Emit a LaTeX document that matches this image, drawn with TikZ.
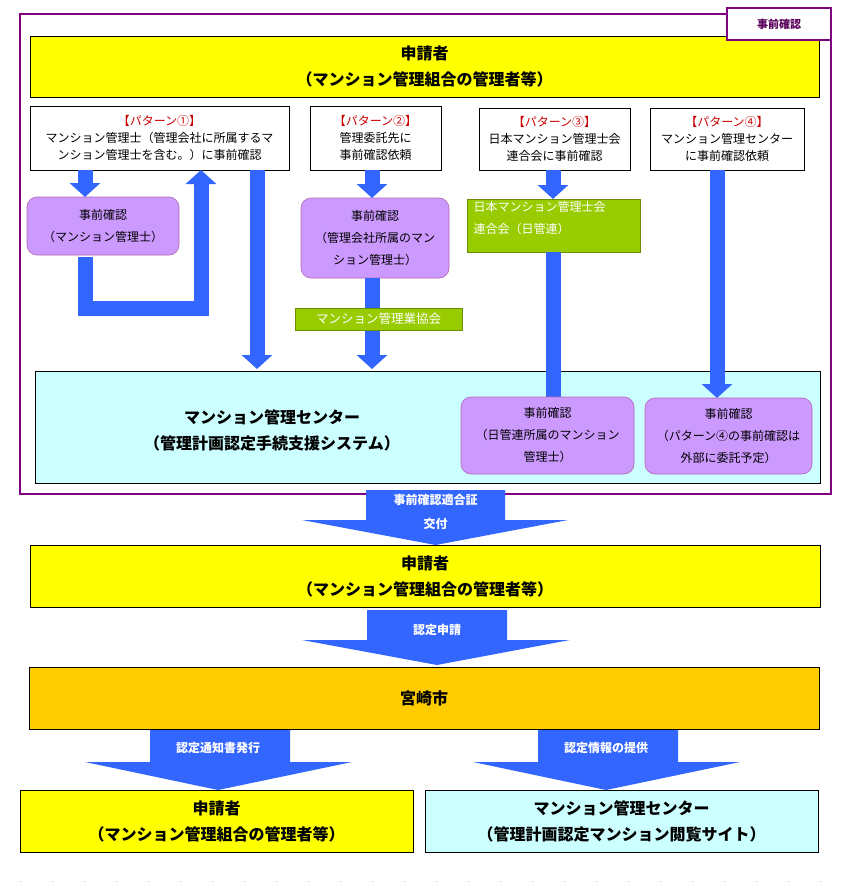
\documentclass[tikz,border=0pt]{standalone}
\usepackage{fontspec}
\setmainfont{Noto Sans CJK JP}
\usetikzlibrary{arrows.meta}
\definecolor{blu}{HTML}{3366FF}
\definecolor{yel}{HTML}{FFFF00}
\definecolor{cya}{HTML}{CCFFFF}
\definecolor{pur}{HTML}{CC99FF}
\definecolor{grn}{HTML}{99CC00}
\definecolor{org}{HTML}{FFCC00}
\definecolor{frm}{HTML}{800080}
\definecolor{red}{HTML}{CC0000}
\begin{document}
\begin{tikzpicture}[x=1pt,y=-1pt,
  box/.style={draw=black,line width=0.6pt,inner sep=0pt},
  big/.style={font=\bfseries\fontsize{16}{26}\selectfont,align=center},
  sm/.style={font=\fontsize{12}{22}\selectfont,align=center},
  pbox/.style={box,fill=white},
  rbox/.style={draw=frm!60,fill=pur,rounded corners=10pt,line width=0.6pt},
  gbox/.style={fill=grn,draw=grn!70!black,line width=0.4pt},
  flow/.style={draw=blu,line width=15pt,-{Triangle[width=30pt,length=14pt]}},
  ftxt/.style={text=white,font=\bfseries\fontsize{12}{24}\selectfont,align=center}]
\useasboundingbox (0,0) rectangle (849,883);
\fill[white] (0,0) rectangle (849,883);
% frame
\draw[frm,line width=2pt] (20,14) rectangle (831,494);
% top applicant
\draw[box,fill=yel] (30,36) rectangle (819,97);
\node[big] (app1) at (424.5,66) {申請者\\（マンション管理組合の管理者等）};
\node[draw=frm,line width=2pt,fill=white,minimum width=104pt,minimum height=32pt,text=frm!70!black,font=\bfseries\fontsize{11}{13}\selectfont] (lbl) at (779,24) {事前確認};
% pattern boxes
\draw[pbox] (30,106) rectangle (289,170);
\node[sm] (p1) at (159.5,138) {\textcolor{red}{【パターン①】}\\[-5pt]マンション管理士（管理会社に所属するマ\\[-5pt]ンション管理士を含む。）に事前確認};
\draw[pbox] (310,106) rectangle (441,170);
\node[sm] (p2) at (375.5,138) {\textcolor{red}{【パターン②】}\\[-5pt]管理委託先に\\[-5pt]事前確認依頼};
\draw[pbox] (479,108) rectangle (630,170);
\node[sm] (p3) at (554.5,139) {\textcolor{red}{【パターン③】}\\[-5pt]日本マンション管理士会\\[-5pt]連合会に事前確認};
\draw[pbox] (650,108) rectangle (804,170);
\node[sm] (p4) at (727,139) {\textcolor{red}{【パターン④】}\\[-5pt]マンション管理センター\\[-5pt]に事前確認依頼};
% center box
\draw[box,fill=cya] (35,371) rectangle (820,483);
\node[big] (ctr) at (272,430) {マンション管理センター\\（管理計画認定手続支援システム）};
% purple boxes
\draw[rbox] (27,197) rectangle (179,255);
\node[sm] (a) at (103,226) {事前確認\\（マンション管理士）};
\draw[rbox] (301,198) rectangle (449,278);
\node[sm] (b) at (375,238) {事前確認\\（管理会社所属のマン\\ション管理士）};
% green boxes
\draw[gbox] (467,199) rectangle (640,252);
\node[sm,text=white,align=left,anchor=north west] (g1) at (470,198) {日本マンション管理士会\\連合会（日管連）};
% arrows
\coordinate (l1) at (85,170); \coordinate (l1e) at (85,197);
\draw[flow] (l1) -- (l1e);
\coordinate (lpa) at (85,257); \coordinate (lpb) at (201,170);
\draw[draw=blu,line width=15pt,-{Triangle[width=30pt,length=14pt]}] (lpa) -- (85,308) -- (201,308) -- (lpb);
\coordinate (d1) at (257,170); \coordinate (d1e) at (257,369);
\draw[flow] (d1) -- (d1e);
\coordinate (d2) at (372,170); \coordinate (d2e) at (372,198);
\draw[flow] (d2) -- (d2e);
\coordinate (d2b) at (372,278); \coordinate (d2c) at (372,369);
\draw[flow] (d2b) -- (d2c);
\coordinate (d3) at (553,170); \coordinate (d3e) at (553,199);
\draw[flow] (d3) -- (d3e);
\coordinate (d4) at (717,170); \coordinate (d4e) at (717,398);
\draw[flow] (d4) -- (d4e);
\coordinate (d3b) at (553,252); \coordinate (d3c) at (553,400);
\draw[draw=blu,line width=15pt] (d3b) -- (d3c);
\draw[gbox] (295,308) rectangle (462,330);
\node[font=\fontsize{12.5}{14}\selectfont,text=white] (g2) at (378.5,319) {マンション管理業協会};
\draw[rbox] (461,397) rectangle (634,474);
\node[sm] (c) at (547.5,435) {事前確認\\（日管連所属のマンション\\管理士）};
\draw[rbox] (645,398) rectangle (812,474);
\node[sm] (d) at (728.5,436) {事前確認\\（パターン④の事前確認は\\外部に委託予定）};
% big arrows
\fill[blu] (366,490) -- (505,490) -- (505,520) -- (568,520) -- (435.5,545) -- (302,520) -- (366,520) -- cycle;
\node[ftxt] (t1) at (435.5,512) {事前確認適合証\\交付};
\draw[box,fill=yel] (30,545) rectangle (820,607);
\node[big] (app2) at (425,576) {申請者\\（マンション管理組合の管理者等）};
\fill[blu] (367,610) -- (507,610) -- (507,640) -- (570,640) -- (437,665) -- (302,640) -- (367,640) -- cycle;
\node[ftxt] (t2) at (437,630) {認定申請};
\draw[box,fill=org] (29,667) rectangle (819,729);
\node[big] (city) at (424,698) {宮崎市};
\fill[blu] (150,730) -- (290,730) -- (290,762) -- (352,762) -- (218,790) -- (85,762) -- (150,762) -- cycle;
\node[ftxt] (t3) at (218,748) {認定通知書発行};
\fill[blu] (538,730) -- (678,730) -- (678,762) -- (740,762) -- (606,790) -- (473,762) -- (538,762) -- cycle;
\node[ftxt] (t4) at (606,748) {認定情報の提供};
\draw[box,fill=yel] (20,790) rectangle (413,852);
\node[big] (app3) at (216.5,821) {申請者\\（マンション管理組合の管理者等）};
\draw[box,fill=cya] (425,790) rectangle (818,852);
\node[big] (ctr2) at (621.5,821) {マンション管理センター\\（管理計画認定マンション閲覧サイト）};
\draw[gray!60,dash pattern=on 1pt off 31pt,line width=1pt] (20,881) -- (830,881);
\end{tikzpicture}
\end{document}
